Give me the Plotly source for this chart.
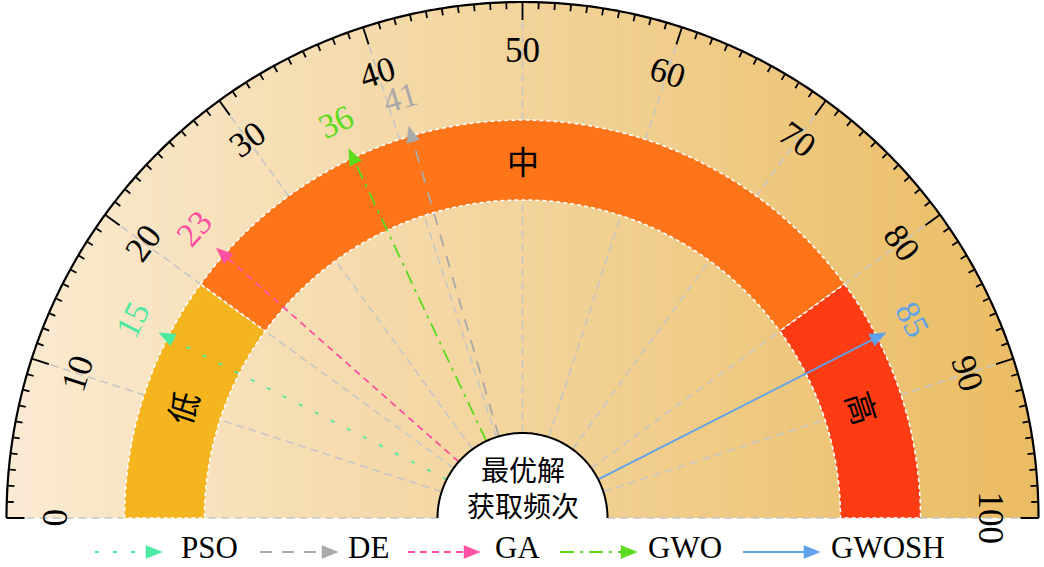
import numpy as np
import plotly.graph_objects as go

# ---------------- data ----------------
names = ["PSO", "DE", "GA", "GWO", "GWOSH"]
values = [15, 41, 23, 36, 85]
colors = ["#4BE9A0", "#A9A9A9", "#FF4FA3", "#5ADB1C", "#5FA2EA"]
dashes = ["4px,14px", "12px,10px", "7px,5px", "14px,6px,3px,6px", "solid"]

tick_values = list(range(0, 101, 10))
tick_labels = [str(v) for v in tick_values]

band_names = ["低", "中", "高"]
band_start = [0, 20, 80]
band_end = [20, 80, 100]
band_colors = ["#F5B51E", "#FD7419", "#FD3C14"]

center_text = ["最优解", "获取频次"]

# ---------------- geometry (layout) ----------------
W, H = 1044, 567
CX, CY = 522.5, 49.0
R_OUT, R_IN = 516.0, 85.0
BAND_IN, BAND_OUT = 318.0, 398.0
R_TICKLAB, R_TIP, R_VLAB = 468.0, 408.0, 438.0
HEAD_L, HEAD_W = 16.0, 6.5
SERIF = "Liberation Serif, Times New Roman, serif"
CJK = "Noto Sans CJK SC"


def ang(v):
    return np.pi * (1.0 - v / 100.0)


def pol(v, r):
    a = ang(v)
    return CX + r * np.cos(a), CY + r * np.sin(a)


def arc(v0, v1, r, n=80):
    vs = np.linspace(v0, v1, n)
    return [pol(v, r) for v in vs]


def path_from(pts, close=True, first="M"):
    s = first + " " + " L ".join(f"{x:.2f},{y:.2f}" for x, y in pts)
    return s + (" Z" if close else "")


def lerp_color(c0, c1, t):
    a = [int(c0[i:i + 2], 16) for i in (1, 3, 5)]
    b = [int(c1[i:i + 2], 16) for i in (1, 3, 5)]
    return "rgb(%d,%d,%d)" % tuple(round(a[k] + (b[k] - a[k]) * t) for k in range(3))


shapes = []

# gradient background (vertical strips)
N = 140
xs = np.linspace(CX - R_OUT, CX + R_OUT, N + 1)
for i in range(N):
    x0, x1 = xs[i], min(xs[i + 1] + 0.8, CX + R_OUT)
    sx = np.linspace(x0, x1, 5)
    top = [(x, CY + np.sqrt(max(R_OUT ** 2 - (x - CX) ** 2, 0))) for x in sx]
    pts = [(x0, CY)] + top + [(x1, CY)]
    t = ((x0 + x1) / 2 - (CX - R_OUT)) / (2 * R_OUT)
    shapes.append(dict(type="path", path=path_from(pts), fillcolor=lerp_color("#FBEBD3", "#EABC62", t),
                       line=dict(width=0), layer="below"))

# grid lines every 10
for v in tick_values:
    x0, y0 = pol(v, R_IN)
    x1, y1 = pol(v, R_OUT - 4)
    shapes.append(dict(type="line", x0=x0, y0=y0, x1=x1, y1=y1, layer="below",
                       line=dict(color="#C6C6C6", width=1.6, dash="8px,5px")))

# bands
for s, e, c in zip(band_start, band_end, band_colors):
    pts = arc(s, e, BAND_OUT) + arc(e, s, BAND_IN)
    shapes.append(dict(type="path", path=path_from(pts), fillcolor=c, layer="below",
                       line=dict(color="white", width=1.6, dash="4px,3px")))

# center white semicircle
cpts = arc(0, 100, R_IN, 120)
shapes.append(dict(type="path", path=path_from(cpts), fillcolor="white", line=dict(width=0), layer="above"))
shapes.append(dict(type="path", path=path_from(cpts, close=False), fillcolor="rgba(0,0,0,0)",
                   line=dict(color="black", width=2), layer="above"))

# outer arc
shapes.append(dict(type="path", path=path_from(arc(0, 100, R_OUT, 300), close=False),
                   fillcolor="rgba(0,0,0,0)", line=dict(color="black", width=2.2), layer="above"))
# ticks
tp = []
for v in range(0, 101):
    L = 18 if v % 10 == 0 else 7
    a0 = pol(v, R_OUT)
    a1 = pol(v, R_OUT - L)
    tp.append(f"M {a0[0]:.2f},{a0[1]:.2f} L {a1[0]:.2f},{a1[1]:.2f}")
shapes.append(dict(type="path", path=" ".join(tp), fillcolor="rgba(0,0,0,0)",
                   line=dict(color="black", width=1.8), layer="above"))

fig = go.Figure()


def add_arrow(x0, y0, x1, y1, color, dash, name):
    dx, dy = x1 - x0, y1 - y0
    L = np.hypot(dx, dy)
    ux, uy = dx / L, dy / L
    bx, by = x1 - HEAD_L * ux, y1 - HEAD_L * uy
    fig.add_trace(go.Scatter(x=[x0, bx + 2 * ux], y=[y0, by + 2 * uy], mode="lines", name=name,
                             line=dict(color=color, width=1.8, dash=dash), hoverinfo="skip",
                             showlegend=False))
    px, py = -uy, ux
    fig.add_trace(go.Scatter(x=[x1, bx + HEAD_W * px, bx - HEAD_W * px, x1],
                             y=[y1, by + HEAD_W * py, by - HEAD_W * py, y1],
                             mode="lines", fill="toself", fillcolor=color, line=dict(color=color, width=0.5),
                             hoverinfo="skip", showlegend=False))


annotations = []
for n, v, c, d in zip(names, values, colors, dashes):
    x0, y0 = pol(v, R_IN)
    x1, y1 = pol(v, R_TIP)
    add_arrow(x0, y0, x1, y1, c, d, n)
    lx, ly = pol(v, R_VLAB)
    annotations.append(dict(x=lx, y=ly, text=str(v), showarrow=False, textangle=1.8 * v - 90,
                            font=dict(family=SERIF, size=34, color=c), xanchor="center", yanchor="middle"))

# tick labels
for v, t in zip(tick_values, tick_labels):
    lx, ly = pol(v, R_TICKLAB)
    annotations.append(dict(x=lx, y=ly, text=t, showarrow=False, textangle=1.8 * v - 90,
                            font=dict(family=SERIF, size=35, color="black"), xanchor="center", yanchor="middle"))

# band labels
for s, e, nm in zip(band_start, band_end, band_names):
    vm = (s + e) / 2
    lx, ly = pol(vm, (BAND_IN + BAND_OUT) / 2)
    annotations.append(dict(x=lx, y=ly, text=nm, showarrow=False, textangle=1.8 * vm - 90,
                            font=dict(family=CJK, size=32, color="black"), xanchor="center", yanchor="middle"))

# center text (single two-line annotation)
annotations.append(dict(x=CX, y=H - 487, text="<br>".join(center_text), showarrow=False,
                        font=dict(family=CJK, size=28, color="black"), xanchor="center", yanchor="middle"))

# custom legend
leg_y = H - 547
leg_start = [95, 260, 408, 560, 743]
leg_tip = [162, 338, 480, 637, 820]
leg_text = [180, 347, 494, 647, 830]
for n, c, d, a, b, tx in zip(names, colors, dashes, leg_start, leg_tip, leg_text):
    add_arrow(a, H - 552, b, H - 552, c, d, n)
    annotations.append(dict(x=tx, y=leg_y, text=n, showarrow=False, xanchor="left", yanchor="middle",
                            borderpad=0, font=dict(family=SERIF, size=31, color="black")))

fig.update_layout(
    width=W, height=H, autosize=False,
    margin=dict(l=0, r=0, t=0, b=0),
    paper_bgcolor="white", plot_bgcolor="white",
    xaxis=dict(range=[0, W], visible=False, fixedrange=True),
    yaxis=dict(range=[0, H], visible=False, fixedrange=True),
    shapes=shapes, annotations=annotations, showlegend=False,
)

fig.write_html("out.html", config={"displayModeBar": False},
               post_script="document.body.style.margin='0px';document.body.style.padding='0px';"
                           "document.body.style.overflow='hidden';")
